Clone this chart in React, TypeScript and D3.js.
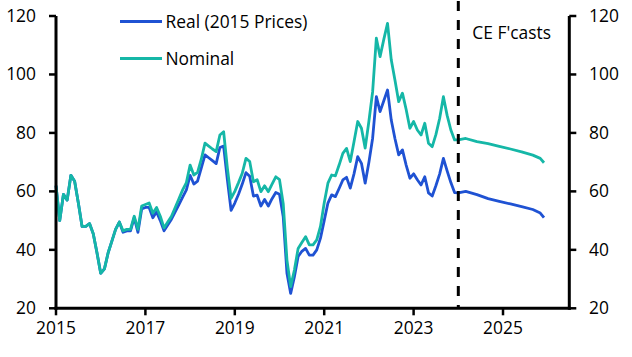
import React from "react";
import * as d3 from "d3";

// Monthly history Jan 2015 - Dec 2023 (month index 0..107), then forecasts
const realHistory: number[] = [
  // 2015
  62, 50, 59, 57, 65.5, 63.5, 56, 48, 48, 49, 45.5, 39,
  // 2016
  32, 33.5, 39, 43, 47, 49.5, 46, 46.5, 46.5, 51, 46, 54,
  // 2017
  54.5, 54.5, 51, 53, 50, 46.5, 48.5, 50.5, 53, 55.5, 58, 60.5,
  // 2018
  65.5, 62.5, 63.5, 68, 72.5, 71.5, 70.5, 69.5, 75, 75.5, 64, 53.5,
  // 2019
  56, 59, 62.5, 66.4, 65.2, 58.4, 58.7, 55, 57.2, 55, 57.5, 59.6,
  // 2020
  59, 51.3, 32, 25.1, 30.8, 37.7, 39.5, 40.5, 38.2, 38.2, 40, 44,
  // 2021
  50, 56, 58.8, 58.2, 61, 63.9, 64.8, 61.1, 66, 71.9, 69.6, 62.8,
  // 2022
  70, 78.2, 92.4, 87.3, 91, 94.7, 84.4, 78, 72.5, 74.2, 69, 64.5,
  // 2023
  66, 64, 62.2, 65, 59.5, 58.4, 62, 66, 71.3, 67, 63, 59.6,
];

const nominalHistory: number[] = [
  // 2015
  62, 50, 59, 57, 65.5, 63.5, 56, 48, 48, 49, 45.5, 39,
  // 2016
  32, 33.5, 39, 43, 47, 49.5, 46.5, 47, 47, 51.5, 47, 55,
  // 2017
  55.5, 56, 52.5, 54.5, 51.5, 47.5, 49.5, 51.5, 54.5, 57.5, 60.5, 63,
  // 2018
  69, 65.6, 66.5, 71, 76.5, 75.5, 74.5, 73.6, 79.3, 80.4, 68, 57.6,
  // 2019
  60, 63, 66.2, 71.3, 70.2, 63.3, 64, 59.9, 61.9, 59.9, 62.5, 65,
  // 2020
  64, 55.8, 36.5, 27.4, 33.1, 40.5, 42.5, 44.5, 41.7, 41.7, 43.4, 48,
  // 2021
  56, 62.8, 65.6, 65.3, 69, 73, 74.7, 70.2, 77, 83.9, 81.6, 74.8,
  // 2022
  84, 94.1, 112.4, 106.1, 112, 117.5, 105, 98, 90.7, 93.6, 88, 81.6,
  // 2023
  83.9, 81, 79.3, 83.3, 76.5, 75.3, 79.5, 85, 92.4, 86, 81, 77.6,
];

// Forecast points (month index from Jan 2015)
const forecastMonths: number[] = [108, 110, 113, 116, 119, 122, 125, 128, 130, 131];
const realForecast: number[] = [59.5, 60.0, 58.9, 57.5, 56.6, 55.7, 54.8, 53.8, 52.6, 51.0];
const nominalForecast: number[] = [77.6, 78.1, 77.0, 76.3, 75.4, 74.5, 73.5, 72.4, 71.3, 69.8];

const yearTicks: number[] = [2015, 2017, 2019, 2021, 2023, 2025];
const valueTicks: number[] = [20, 40, 60, 80, 100, 120];
const forecastStart = 2024;
const legendLabels = ["Real (2015 Prices)", "Nominal"];
const forecastLabel = "CE F'casts";

const REAL_COLOR = "#1f52d3";
const NOM_COLOR = "#15b7a7";
const FONT = "'Open Sans', 'Noto Sans', sans-serif";

type Pt = { t: number; v: number };

function buildSeries(hist: number[], fm: number[], fv: number[]): Pt[] {
  const pts: Pt[] = hist.map((v, i) => ({ t: 2015 + i / 12, v }));
  fm.forEach((m, i) => {
    if (m > hist.length - 1) pts.push({ t: 2015 + m / 12, v: fv[i] });
  });
  return pts;
}

export default function App() {
  const W = 632;
  const H = 357;
  const left = 56;
  const right = 569.3;
  const top = 16;
  const bottom = 308.3;

  const x = d3.scaleLinear().domain([2015, 2026.483]).range([left, right]);
  const y = d3.scaleLinear().domain([20, 120]).range([bottom, top]);

  const line = d3
    .line<Pt>()
    .x((d) => x(d.t))
    .y((d) => y(d.v));

  const real = buildSeries(realHistory, forecastMonths, realForecast);
  const nominal = buildSeries(nominalHistory, forecastMonths, nominalForecast);

  const fs = 17.4;

  return (
    <svg
      width={W}
      height={H}
      style={{ position: "absolute", left: 0, top: 0, background: "#fff" }}
      fontFamily={FONT}
    >
      {/* series */}
      <path d={line(real) || ""} fill="none" stroke={REAL_COLOR} strokeWidth={2.8} strokeLinejoin="round" />
      <path d={line(nominal) || ""} fill="none" stroke={NOM_COLOR} strokeWidth={2.8} strokeLinejoin="round" />

      {/* forecast divider */}
      <line
        x1={x(forecastStart)}
        x2={x(forecastStart)}
        y1={1}
        y2={bottom}
        stroke="#000"
        strokeWidth={3}
        strokeDasharray="10 9"
      />
      <text x={x(forecastStart) + 14} y={39} fontSize={fs} fill="#000">
        {forecastLabel}
      </text>

      {/* axes */}
      <line x1={left} x2={left} y1={top} y2={bottom + 1.5} stroke="#000" strokeWidth={3} />
      <line x1={right} x2={right} y1={top} y2={bottom + 1.5} stroke="#000" strokeWidth={3} />
      <line x1={left - 1.5} x2={right + 1.5} y1={bottom} y2={bottom} stroke="#000" strokeWidth={3} />

      {valueTicks.map((v) => (
        <g key={"l" + v}>
          <line x1={left - 7} x2={left} y1={y(v)} y2={y(v)} stroke="#000" strokeWidth={2.5} />
          <text x={36} y={y(v) + 6} textAnchor="end" fontSize={fs} fill="#000">
            {v}
          </text>
          <line x1={right} x2={right + 7} y1={y(v)} y2={y(v)} stroke="#000" strokeWidth={2.5} />
          <text x={589} y={y(v) + 6} textAnchor="start" fontSize={fs} fill="#000">
            {v}
          </text>
        </g>
      ))}

      {yearTicks.map((t) => (
        <g key={"x" + t}>
          <line x1={x(t)} x2={x(t)} y1={bottom} y2={bottom + 7} stroke="#000" strokeWidth={2.5} />
          <text x={x(t)} y={334} textAnchor="middle" fontSize={fs} fill="#000">
            {t}
          </text>
        </g>
      ))}

      {/* legend */}
      <line x1={120} x2={162} y1={21.5} y2={21.5} stroke={REAL_COLOR} strokeWidth={3} />
      <text x={165.5} y={27.5} fontSize={fs} fill="#000">
        {legendLabels[0]}
      </text>
      <line x1={120} x2={162} y1={58.5} y2={58.5} stroke={NOM_COLOR} strokeWidth={3} />
      <text x={165.5} y={64.5} fontSize={fs} fill="#000">
        {legendLabels[1]}
      </text>
    </svg>
  );
}
